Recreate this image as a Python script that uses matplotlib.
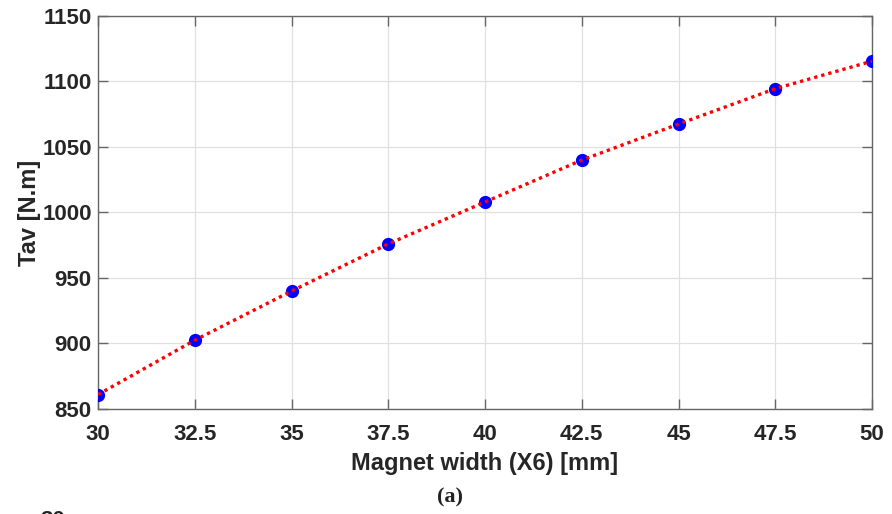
import matplotlib
matplotlib.use("Agg")
import matplotlib.pyplot as plt

# values
magnet_width = [30, 32.5, 35, 37.5, 40, 42.5, 45, 47.5, 50]
tav = [861, 902.5, 940, 976, 1008, 1040, 1067.5, 1094.5, 1115.5]

x_ticks = [30, 32.5, 35, 37.5, 40, 42.5, 45, 47.5, 50]
x_tick_labels = ["30", "32.5", "35", "37.5", "40", "42.5", "45", "47.5", "50"]
y_ticks = [850, 900, 950, 1000, 1050, 1100, 1150]

text_color = "#262626"
plt.rcParams["font.family"] = ["Liberation Sans", "DejaVu Sans"]

fig = plt.figure(figsize=(8.92, 5.14), dpi=100)
ax = fig.add_axes([0.1099, 0.2043, 0.8677, 0.7646])

ax.plot(magnet_width, tav, linestyle="none", marker="o", markersize=8.5,
        markerfacecolor="blue", markeredgecolor="blue", zorder=3)
ax.plot(magnet_width, tav, color="red", linestyle=(0, (1, 1.2)), linewidth=2.4, zorder=4)

ax.set_xlim(30, 50)
ax.set_ylim(850, 1150)
ax.set_xticks(x_ticks)
ax.set_xticklabels(x_tick_labels)
ax.set_yticks(y_ticks)

ax.grid(True, color="#e0e0e0", linewidth=0.9)
ax.set_axisbelow(True)
for side in ["left", "right", "top", "bottom"]:
    ax.spines[side].set_color("#666666")
    ax.spines[side].set_linewidth(1.0)

ax.tick_params(direction="in", length=7, width=1.0, color="#666666",
               top=True, right=True, labelsize=16, labelcolor=text_color)
ax.tick_params(axis="x", pad=11)
ax.tick_params(axis="y", pad=4.5)
for lbl in ax.get_xticklabels() + ax.get_yticklabels():
    lbl.set_fontweight("bold")

ax.set_xlabel("Magnet width (X6) [mm]", fontsize=17, fontweight="bold",
              color=text_color, labelpad=5)
ax.set_ylabel("Tav [N.m]", fontsize=17, fontweight="bold",
              color=text_color, labelpad=1)

fig.text(450 / 892, 1 - 497 / 514, "(a)", ha="center", va="center",
         fontsize=16, family=["Liberation Serif"], fontweight="bold", color="#222222")
# top of the next panel's tick label, cut off by the page edge
fig.text(53 / 892, 1 - 510 / 514, "30", ha="center", va="top",
         fontsize=16, fontweight="bold", color=text_color)

fig.savefig("out.png", dpi=100)
